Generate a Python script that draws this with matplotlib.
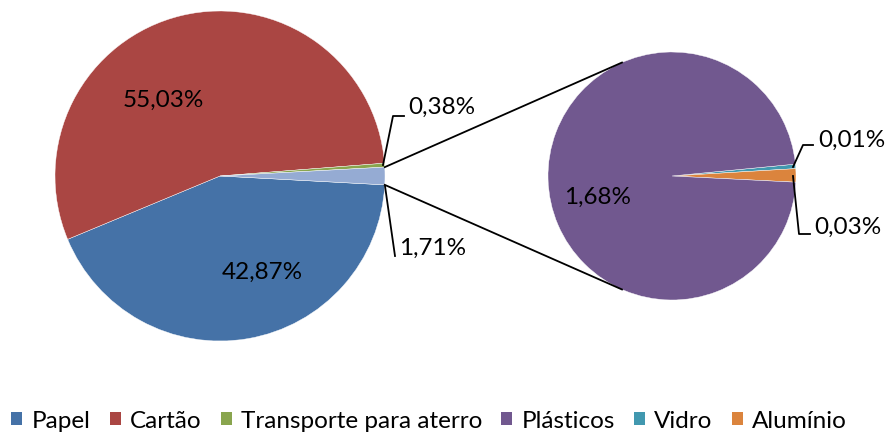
import numpy as np
import matplotlib.pyplot as plt
from matplotlib.patches import Patch

plt.rcParams['font.family'] = ['Lato', 'DejaVu Sans']

# categorias e valores (%)
categorias = ['Papel', 'Cartão', 'Transporte para aterro', 'Plásticos', 'Vidro', 'Alumínio']
cores = ['#4572A7', '#AA4643', '#89A54E', '#71588F', '#4198AF', '#DB843D']
cor_outros = '#95ABD3'

# pizza principal: Papel, Cartão, Transporte, Outros
valores_principal = [42.87, 55.03, 0.38, 1.71]
rotulos_principal = ['42,87%', '55,03%', '0,38%', '1,71%']

# pizza secundária (detalhe de Outros): Vidro, Alumínio, Plásticos
valores_secundario = [0.01, 0.03, 1.68]
rotulos_secundario = ['0,01%', '0,03%', '1,68%']

W, H = 887, 435
FS = 17.5


def yy(v):
    # coordenada vertical medida de cima para baixo
    return H - v


def tangente(p, c, r, sinal):
    d = np.hypot(p[0] - c[0], p[1] - c[1])
    base = np.arctan2(p[1] - c[1], p[0] - c[0])
    a = base + sinal * np.arccos(r / d)
    return c[0] + r * np.cos(a), c[1] + r * np.sin(a)


fig = plt.figure(figsize=(W / 100, H / 100), dpi=100)
ax = fig.add_axes([0, 0, 1, 1])

c1, r1 = (220, yy(177)), 165
c2, r2 = (672, yy(177)), 124

meio = valores_principal[3] / sum(valores_principal) * 180
ax.pie(valores_principal, colors=cores[:3] + [cor_outros], center=c1, radius=r1,
       startangle=-meio, counterclock=False,
       wedgeprops=dict(edgecolor='white', linewidth=0.3))
ax.pie(valores_secundario, colors=[cores[4], cores[5], cores[3]], center=c2, radius=r2,
       startangle=5.5, counterclock=False,
       wedgeprops=dict(edgecolor='white', linewidth=0.3))

# linhas de ligação entre as pizzas
for sinal, ang in [(-1, meio), (1, -meio)]:
    p = (c1[0] + r1 * np.cos(np.radians(ang)), c1[1] + r1 * np.sin(np.radians(ang)))
    t = tangente(p, c2, r2, sinal)
    ax.plot([p[0], t[0]], [p[1], t[1]], color='black', lw=1.3)

# rótulos internos
ax.text(163, yy(100), rotulos_principal[1], fontsize=FS, ha='center', va='center')
ax.text(262, yy(272), rotulos_principal[0], fontsize=FS, ha='center', va='center')
ax.text(598, yy(197), rotulos_secundario[2], fontsize=FS, ha='center', va='center')

# rótulos externos com linhas de chamada
chamadas = [
    (rotulos_principal[2], [(383, 166), (393, 117), (404, 117)], (408, 107)),
    (rotulos_principal[3], [(385, 187), (395, 257)], (399, 248)),
    (rotulos_secundario[0], [(793, 168), (803, 146), (813, 146)], (818, 140)),
    (rotulos_secundario[1], [(793, 177), (799, 235), (810, 235)], (814, 227)),
]
for txt, pts, pos in chamadas:
    xs = [p[0] for p in pts]
    ys = [yy(p[1]) for p in pts]
    ax.plot(xs, ys, color='black', lw=1.3)
    ax.text(pos[0], yy(pos[1]), txt, fontsize=FS, ha='left', va='center')

ax.set_xlim(0, W)
ax.set_ylim(0, H)
ax.axis('off')

handles = [Patch(facecolor=c, edgecolor='none') for c in cores]
fig.legend(handles, categorias, loc='center', bbox_to_anchor=(429 / W, 13 / H),
           ncol=6, frameon=False, fontsize=FS, handlelength=0.45, handleheight=0.45,
           handletextpad=0.37, columnspacing=0.8, borderaxespad=0)

fig.savefig('out.png', dpi=100)
